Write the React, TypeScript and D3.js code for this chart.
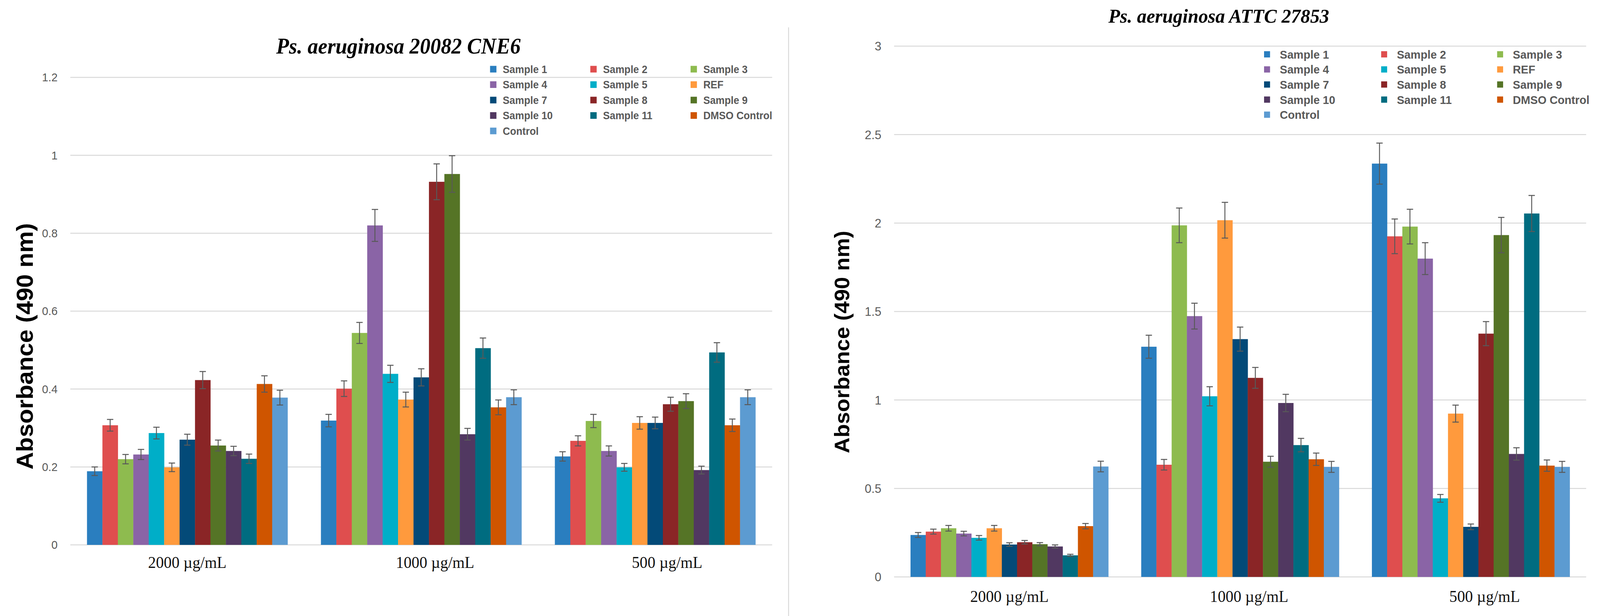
import React, { useEffect } from "react";
import * as d3 from "d3";

// ---------- DATA ----------
const categories = ["2000 µg/mL", "1000 µg/mL", "500 µg/mL"];

const seriesNames = [
  "Sample 1", "Sample 2", "Sample 3", "Sample 4", "Sample 5", "REF",
  "Sample 7", "Sample 8", "Sample 9", "Sample 10", "Sample 11", "DMSO Control", "Control",
];

const seriesColors = [
  "#2a7ebf", "#df4e4e", "#8ebb4f", "#8a64a6", "#00aec8", "#ff9a3d",
  "#034a78", "#8a2526", "#557426", "#513861", "#006c80", "#cf5500", "#5c9bd1",
];

// Left chart: Ps. aeruginosa 20082 CNE6 (rows = series, cols = categories)
const leftTitle = "Ps. aeruginosa 20082 CNE6";
const leftValues = [
  [0.189, 0.319, 0.227],
  [0.307, 0.401, 0.267],
  [0.220, 0.544, 0.318],
  [0.232, 0.820, 0.241],
  [0.287, 0.439, 0.199],
  [0.199, 0.373, 0.313],
  [0.270, 0.430, 0.313],
  [0.423, 0.932, 0.361],
  [0.255, 0.952, 0.369],
  [0.241, 0.284, 0.192],
  [0.221, 0.505, 0.494],
  [0.413, 0.353, 0.307],
  [0.378, 0.379, 0.379],
];
const leftErrors = [
  [0.011, 0.016, 0.012],
  [0.015, 0.020, 0.013],
  [0.012, 0.027, 0.017],
  [0.013, 0.041, 0.013],
  [0.015, 0.022, 0.010],
  [0.011, 0.019, 0.016],
  [0.014, 0.022, 0.015],
  [0.022, 0.046, 0.018],
  [0.014, 0.047, 0.019],
  [0.012, 0.015, 0.010],
  [0.012, 0.026, 0.025],
  [0.021, 0.019, 0.016],
  [0.019, 0.019, 0.019],
];
const leftTicks = [0, 0.2, 0.4, 0.6, 0.8, 1, 1.2];

// Right chart: Ps. aeruginosa ATTC 27853
const rightTitle = "Ps. aeruginosa ATTC 27853";
const rightValues = [
  [0.237, 1.301, 2.336],
  [0.256, 0.634, 1.925],
  [0.275, 1.987, 1.980],
  [0.245, 1.474, 1.799],
  [0.221, 1.021, 0.444],
  [0.275, 2.016, 0.923],
  [0.183, 1.344, 0.283],
  [0.196, 1.125, 1.375],
  [0.185, 0.651, 1.932],
  [0.172, 0.983, 0.695],
  [0.122, 0.745, 2.054],
  [0.287, 0.665, 0.629],
  [0.624, 0.622, 0.622],
];
const rightErrors = [
  [0.014, 0.065, 0.116],
  [0.014, 0.030, 0.098],
  [0.016, 0.098, 0.098],
  [0.013, 0.073, 0.090],
  [0.013, 0.054, 0.022],
  [0.016, 0.101, 0.048],
  [0.010, 0.068, 0.016],
  [0.010, 0.059, 0.068],
  [0.009, 0.031, 0.100],
  [0.009, 0.049, 0.035],
  [0.006, 0.038, 0.102],
  [0.015, 0.035, 0.032],
  [0.030, 0.031, 0.031],
];
const rightTicks = [0, 0.5, 1, 1.5, 2, 2.5, 3];

const yTitle = "Absorbance (490 nm)";

// ---------- LAYOUT ----------
const W = 4277;
const H = 1576;

type ChartCfg = {
  title: string;
  values: number[][];
  errors: number[][];
  ticks: number[];
  yMax: number;
  x0: number; x1: number; yTop: number; yBottom: number;
  tickFontSize: number;
  titleX: number; titleY: number; titleSize: number;
  yTitleX: number; yTitleY: number; yTitleSize: number;
  catLabelY: number; catDx: number[];
  legendX: number[]; legendY0: number; legendDy: number; legendTextDx: number; legendFont: number; legendSw: number;
};

const leftCfg: ChartCfg = {
  title: leftTitle, values: leftValues, errors: leftErrors, ticks: leftTicks, yMax: 1.2,
  x0: 188, x1: 2064, yTop: 198, yBottom: 1394,
  tickFontSize: 30,
  titleX: 1065, titleY: 137, titleSize: 56,
  yTitleX: 88, yTitleY: 886, yTitleSize: 62,
  catLabelY: 1453, catDx: [0, 37, 32],
  legendX: [1310, 1578, 1846], legendY0: 177, legendDy: 39.5, legendTextDx: 34, legendFont: 27, legendSw: 17,
};

const rightCfg: ChartCfg = {
  title: rightTitle, values: rightValues, errors: rightErrors, ticks: rightTicks, yMax: 3,
  x0: 2390, x1: 4240, yTop: 118, yBottom: 1476,
  tickFontSize: 32,
  titleX: 3258, titleY: 58, titleSize: 51,
  yTitleX: 2270, yTitleY: 875, yTitleSize: 56,
  catLabelY: 1540, catDx: [0, 24, 37],
  legendX: [3379, 3692, 4002], legendY0: 139, legendDy: 38.6, legendTextDx: 42, legendFont: 30, legendSw: 16,
};

const legendOrder = [0, 1, 2, 3, 4, 5, 6, 7, 8, 9, 10, 11, 12];

function Chart({ cfg }: { cfg: ChartCfg }) {
  const xCat = d3.scaleBand<string>().domain(categories).range([cfg.x0, cfg.x1]).paddingInner(0).paddingOuter(0);
  const xSer = d3
    .scaleBand<string>()
    .domain(seriesNames)
    .range([0, xCat.bandwidth()])
    .paddingInner(0)
    .paddingOuter(1.08);
  const y = d3.scaleLinear().domain([0, cfg.yMax]).range([cfg.yBottom, cfg.yTop]);
  const bw = xSer.bandwidth();
  const capHalf = 8.5;

  return (
    <g>
      {/* gridlines */}
      {cfg.ticks.map((t) => (
        <line key={"g" + t} x1={cfg.x0} x2={cfg.x1} y1={y(t)} y2={y(t)} stroke="#d9d9d9" strokeWidth={2.5} />
      ))}
      {/* tick labels */}
      {cfg.ticks.map((t) => (
        <text
          key={"t" + t}
          x={cfg.x0 - 34}
          y={y(t)}
          dy="0.35em"
          textAnchor="end"
          fontFamily="'Liberation Sans', Arial, sans-serif"
          fontSize={cfg.tickFontSize}
          fill="#595959"
        >
          {d3.format("~g")(t)}
        </text>
      ))}
      {/* bars */}
      {seriesNames.map((s, si) =>
        categories.map((c, ci) => {
          const v = cfg.values[si][ci];
          const x = (xCat(c) as number) + (xSer(s) as number);
          return (
            <rect key={s + c} x={x} y={y(v)} width={bw + 0.4} height={y(0) - y(v)} fill={seriesColors[si]} />
          );
        })
      )}
      {/* error bars */}
      {seriesNames.map((s, si) =>
        categories.map((c, ci) => {
          const v = cfg.values[si][ci];
          const e = cfg.errors[si][ci];
          const cx = (xCat(c) as number) + (xSer(s) as number) + bw / 2;
          return (
            <g key={"e" + s + c} stroke="#595959" strokeWidth={2.5}>
              <line x1={cx} x2={cx} y1={y(v + e)} y2={y(v - e)} />
              <line x1={cx - capHalf} x2={cx + capHalf} y1={y(v + e)} y2={y(v + e)} />
              <line x1={cx - capHalf} x2={cx + capHalf} y1={y(v - e)} y2={y(v - e)} />
            </g>
          );
        })
      )}
      {/* category labels */}
      {categories.map((c, ci) => (
        <text
          key={"c" + c}
          x={(xCat(c) as number) + xCat.bandwidth() / 2 + cfg.catDx[ci]}
          y={cfg.catLabelY}
          textAnchor="middle"
          fontFamily="'Liberation Serif', 'Times New Roman', serif"
          fontSize={42}
          fill="#111"
        >
          {c}
        </text>
      ))}
      {/* title */}
      <text
        x={cfg.titleX}
        y={cfg.titleY}
        textAnchor="middle"
        fontFamily="'Liberation Serif', 'Times New Roman', serif"
        fontStyle="italic"
        fontWeight="bold"
        fontSize={cfg.titleSize}
        fill="#000"
      >
        {cfg.title}
      </text>
      {/* y title */}
      <text
        transform={`translate(${cfg.yTitleX},${cfg.yTitleY}) rotate(-90)`}
        textAnchor="middle"
        fontFamily="'Liberation Sans', Arial, sans-serif"
        fontWeight="bold"
        fontSize={cfg.yTitleSize}
        fill="#000"
      >
        {yTitle}
      </text>
      {/* legend */}
      {legendOrder.map((si, k) => {
        const col = k % 3;
        const row = Math.floor(k / 3);
        const lx = cfg.legendX[col];
        const ly = cfg.legendY0 + row * cfg.legendDy;
        return (
          <g key={"l" + si}>
            <rect x={lx} y={ly - cfg.legendSw / 2} width={cfg.legendSw} height={cfg.legendSw} fill={seriesColors[si]} />
            <text
              x={lx + cfg.legendTextDx}
              y={ly}
              dy="0.36em"
              fontFamily="'Liberation Sans', Arial, sans-serif"
              fontWeight="bold"
              fontSize={cfg.legendFont}
              fill="#595959"
            >
              {seriesNames[si]}
            </text>
          </g>
        );
      })}
    </g>
  );
}

export default function App() {
  useEffect(() => {
    document.documentElement.style.margin = "0";
    document.documentElement.style.overflow = "hidden";
    document.body.style.margin = "0";
    document.body.style.overflow = "hidden";
    document.body.style.background = "#fff";
  }, []);
  return (
    <svg
      viewBox={`0 0 ${W} ${H}`}
      preserveAspectRatio="none"
      style={{ position: "fixed", left: 0, top: 0, width: "100vw", height: "100vh", display: "block", background: "#fff" }}
    >
      <rect x={0} y={0} width={W} height={H} fill="#fff" />
      <line x1={2108} x2={2108} y1={70} y2={H} stroke="#d9d9d9" strokeWidth={2.5} />
      <Chart cfg={leftCfg} />
      <Chart cfg={rightCfg} />
    </svg>
  );
}
